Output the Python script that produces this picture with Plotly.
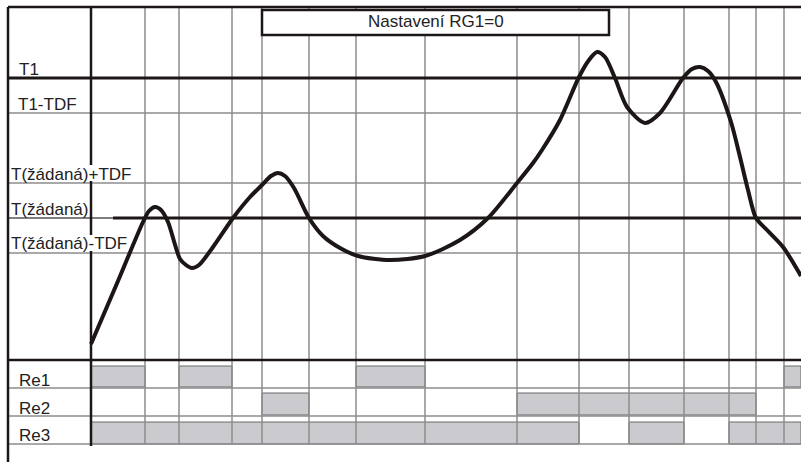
import plotly.graph_objects as go

# ---------------- data (time axis in arbitrary units, temperature/level in arbitrary units) ----
start_t = 91
end_t = 801
frame_left = 8
time_marks = [145, 179, 232, 262, 309, 356, 425, 517, 579, 629, 684, 729, 756, 784]

level_names = ["T1", "T1-TDF", "T(žádaná)+TDF", "T(žádaná)", "T(žádaná)-TDF"]
level_values = [384, 349, 279, 244, 209]
level_label_x = [17, 16, 9, 9, 9]
level_label_y = [393, 358, 288, 253, 219]

curve_t = [91, 118, 143, 149, 155, 161, 168, 180, 186, 192, 199, 213, 233, 250, 262, 271,
           278, 285, 294, 309, 323, 340, 358, 390, 425, 460, 488, 517, 533, 542, 560, 579,
           589, 597, 605, 615, 627, 645, 660, 683, 692, 700, 708, 716, 731, 740, 748, 756,
           767, 783, 801]
curve_T = [118, 181, 240, 251, 255, 252, 240, 203, 197, 194, 197, 215, 244, 265, 277, 286,
           289, 286, 274, 244, 226, 214, 206, 202, 206, 222, 244, 279, 299, 312, 342, 385,
           402, 410, 405, 384, 355, 339, 349, 384, 393, 395, 391, 380, 340, 305, 272, 244,
           232, 215, 186]

relay_names = ["Re1", "Re2", "Re3"]
relay_label_y = [82, 54, 27]
relay_row_lines = [102, 74, 46, 18]      # top (thick) and separators
relay_bar_bottom = [75, 47, 18]
relay_bar_top = [96, 69, 40]
relay_on = [
    [(91, 145), (179, 232), (356, 425), (784, 801)],
    [(262, 309), (517, 756)],
    [(91, 579), (629, 684), (729, 801)],
]

frame_top = 455
frame_bottom = 0
title_text = "Nastavení RG1=0"
title_box = (262, 609, 427, 452)
start_line_gaps = [(281, 297), (211, 227)]   # (low, high) label rows where the start line is hidden

# ---------------- figure ----------------
FONT = "Liberation Sans, Arial, sans-serif"
FSIZE = 17
GRID = "#8c8c8c"
INK = "#1c1616"
shapes = []

def hline(y, x0, x1, color, width):
    shapes.append(dict(type="line", xref="x", yref="y", x0=x0, x1=x1, y0=y, y1=y,
                       line=dict(color=color, width=width), layer="below"))

def vline(x, y0, y1, color, width):
    shapes.append(dict(type="line", xref="x", yref="y", x0=x, x1=x, y0=y0, y1=y1,
                       line=dict(color=color, width=width), layer="below"))

# relay bars
for r, intervals in enumerate(relay_on):
    for a, b in intervals:
        shapes.append(dict(type="rect", xref="x", yref="y", x0=a, x1=b,
                           y0=relay_bar_bottom[r], y1=relay_bar_top[r],
                           fillcolor="#cacacf", line=dict(color="#6a6a6a", width=1),
                           layer="below"))

# vertical grid
for t in time_marks:
    vline(t, relay_row_lines[-1], frame_top, GRID, 1.5)

# horizontal level lines
hline(level_values[1], frame_left, end_t, GRID, 1.5)
hline(level_values[2], frame_left, end_t, GRID, 1.5)
hline(level_values[4], frame_left, end_t, GRID, 1.5)
hline(level_values[0], frame_left, end_t, INK, 3)
hline(level_values[3], frame_left, 113, "#555555", 1.5)
hline(level_values[3], 113, end_t, INK, 3)

# relay rows
hline(relay_row_lines[0], frame_left, end_t, INK, 2.5)
for y in relay_row_lines[1:]:
    hline(y, frame_left, end_t, GRID, 1.5)

# start line (thick vertical) with gaps behind labels
top = frame_top
for g_low, g_high in start_line_gaps:
    vline(start_t, g_high, top, INK, 2.5)
    top = g_low
vline(start_t, relay_row_lines[-1] - 2, top, INK, 2.5)

# outer frame
vline(frame_left, frame_bottom, frame_top, INK, 2.5)
hline(frame_top, frame_left, end_t, INK, 2.5)

# title box
x0, x1, y0, y1 = title_box
shapes.append(dict(type="rect", xref="x", yref="y", x0=x0, x1=x1, y0=y0, y1=y1,
                   fillcolor="white", line=dict(color=INK, width=2.5), layer="above"))

fig = go.Figure()
fig.add_trace(go.Scatter(x=curve_t, y=curve_T, mode="lines",
                         line=dict(color=INK, width=4, shape="spline", smoothing=0.8),
                         hoverinfo="skip", showlegend=False))

annotations = []
for name, lx, ly in zip(level_names, level_label_x, level_label_y):
    annotations.append(dict(x=lx, y=ly, xref="x", yref="y", text=name, showarrow=False,
                            xanchor="left", yanchor="middle",
                            font=dict(family=FONT, size=FSIZE, color="#222222")))
for name, ly in zip(relay_names, relay_label_y):
    annotations.append(dict(x=17, y=ly, xref="x", yref="y", text=name, showarrow=False,
                            xanchor="left", yanchor="middle",
                            font=dict(family=FONT, size=FSIZE, color="#222222")))
annotations.append(dict(x=(x0 + x1) / 2, y=(y0 + y1) / 2 + 1, xref="x", yref="y",
                        text=title_text, showarrow=False, xanchor="center", yanchor="middle",
                        font=dict(family=FONT, size=FSIZE, color="#222222")))

fig.update_layout(
    width=801, height=462,
    margin=dict(l=0, r=0, t=0, b=0),
    paper_bgcolor="white", plot_bgcolor="white",
    xaxis=dict(range=[0, 801], visible=False, fixedrange=True),
    yaxis=dict(range=[0, 462], visible=False, fixedrange=True),
    shapes=shapes, annotations=annotations,
    showlegend=False,
)
fig.write_html("out.html", config={"displayModeBar": False},
               post_script="document.body.style.margin='0';document.body.style.padding='0';document.body.style.overflow='hidden';")
